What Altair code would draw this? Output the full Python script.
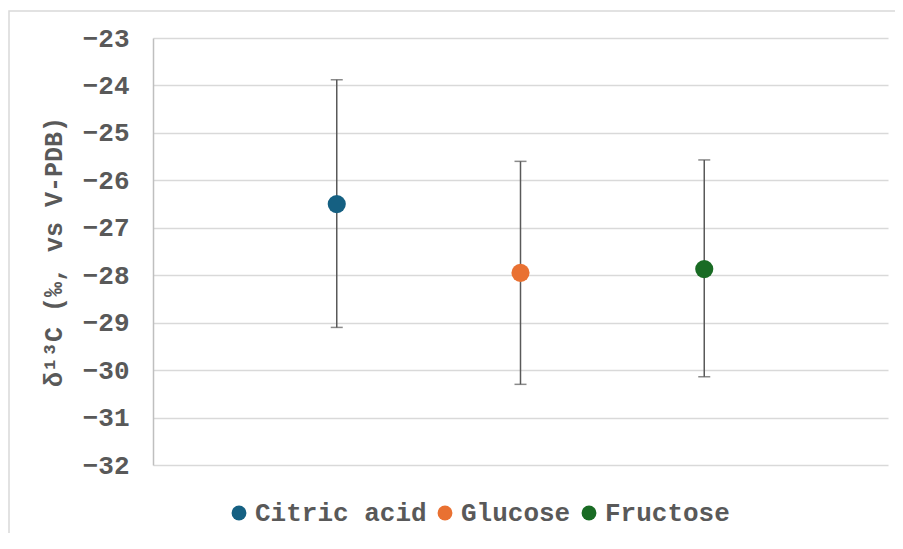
import altair as alt
import pandas as pd

categories = ["Citric acid", "Glucose", "Fructose"]
positions = [1, 2, 3]
means = [-26.5, -27.95, -27.87]
err_hi = [-23.88, -25.6, -25.57]
err_lo = [-29.1, -30.3, -30.14]
colors = ["#156082", "#E97132", "#196B24"]
y_ticks = [-23, -24, -25, -26, -27, -28, -29, -30, -31, -32]

df = pd.DataFrame({"cat": categories, "pos": positions, "mean": means,
                   "hi": err_hi, "lo": err_lo})

FONT = "Liberation Mono"
GRAY = "#595959"

x_scale = alt.Scale(domain=[0, 4])
y_scale = alt.Scale(domain=[-32, -23], nice=False, zero=False)

base = alt.Chart(df)

rules = base.mark_rule(color=GRAY, strokeWidth=1.5).encode(
    x=alt.X("pos:Q", scale=x_scale, axis=None),
    y=alt.Y("lo:Q", scale=y_scale),
    y2="hi:Q",
)
caps_hi = base.mark_tick(color=GRAY, thickness=1.5, size=12, orient="horizontal").encode(
    x=alt.X("pos:Q", scale=x_scale, axis=None),
    y=alt.Y("hi:Q", scale=y_scale),
)
caps_lo = base.mark_tick(color=GRAY, thickness=1.5, size=12, orient="horizontal").encode(
    x=alt.X("pos:Q", scale=x_scale, axis=None),
    y=alt.Y("lo:Q", scale=y_scale),
)
points = base.mark_circle(size=330, opacity=1).encode(
    x=alt.X("pos:Q", scale=x_scale, axis=None),
    y=alt.Y("mean:Q", scale=y_scale, axis=alt.Axis(
        title="δ¹³C (‰, vs V-PDB)", values=y_ticks, format="d",
        ticks=False, labelPadding=24, labelFont=FONT, labelFontSize=26,
        labelFontWeight="bold", labelColor=GRAY,
        titleFont=FONT, titleFontSize=25, titleFontWeight="bold", titleColor=GRAY,
        titlePadding=16,
        grid=True, gridColor="#d9d9d9", gridWidth=1.5,
        domain=True, domainColor="#bfbfbf", domainWidth=1.5,
    )),
    color=alt.Color("cat:N", scale=alt.Scale(domain=categories, range=colors),
                    legend=alt.Legend(
                        title=None, orient="none", direction="horizontal",
                        legendX=73, legendY=462,
                        symbolType="circle", symbolSize=220, symbolStrokeWidth=0,
                        labelFont=FONT, labelFontSize=26, labelFontWeight="bold",
                        labelColor=GRAY, labelOffset=3, columnPadding=5,
                        labelLimit=0,
                    )),
)

border = alt.Chart(alt.Data(values=[{}])).mark_rect(
    fill=None, stroke="#d9d9d9", strokeWidth=1.5
).encode(
    x=alt.value(-144), x2=alt.value(800), y=alt.value(-27), y2=alt.value(600)
)

chart = alt.layer(border, rules, caps_hi, caps_lo, points).properties(
    width=735, height=427,
    padding={"left": 145, "top": 30, "right": 7, "bottom": 68},
    autosize=alt.AutoSizeParams(type="none"),
).configure_view(stroke=None)

chart.save("out.html", embed_options={"renderer": "svg", "actions": False})
